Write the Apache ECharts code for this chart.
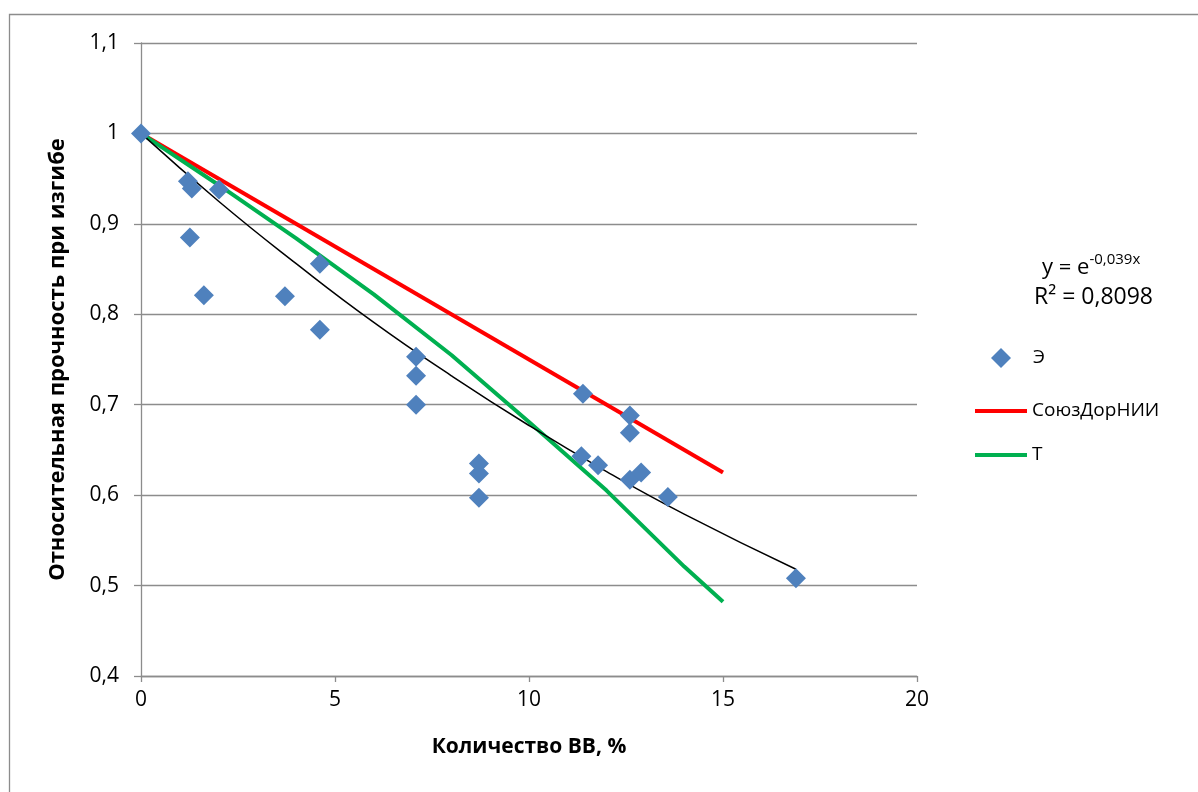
<!DOCTYPE html>
<html><head><meta charset="utf-8">
<script src="https://cdn.jsdelivr.net/npm/echarts@6/dist/echarts.min.js"></script>
<style>html,body{margin:0;padding:0;background:#fff}#c{width:1198px;height:792px}</style>
</head><body><div id="c"></div>
<script>
// Experimental points "Э"
const expX = [0, 1.21, 1.31, 2.01, 1.26, 1.62, 3.71, 4.61, 4.61, 7.09, 7.09, 7.09, 8.71, 8.71, 8.71, 11.39, 12.60, 12.60, 11.35, 11.78, 12.60, 12.89, 13.58, 16.88];
const expY = [1.0, 0.947, 0.939, 0.938, 0.885, 0.821, 0.820, 0.856, 0.783, 0.753, 0.732, 0.700, 0.635, 0.624, 0.597, 0.712, 0.688, 0.669, 0.643, 0.633, 0.617, 0.625, 0.598, 0.508];
// СоюзДорНИИ line
const redX = [0, 15];
const redY = [1.0, 0.625];
// Т line
const greenX = [0, 2, 4, 6, 8, 10, 12, 14, 15];
const greenY = [1.0, 0.943, 0.884, 0.822, 0.755, 0.681, 0.605, 0.521, 0.482];
// exponential trend line
const trendX = [0, 2, 4, 6, 8, 10, 12, 14, 16.88];
const trendY = [1.0, 0.925, 0.856, 0.791, 0.732, 0.677, 0.626, 0.579, 0.518];
const xTicks = {min: 0, max: 20, interval: 5};
const yTicks = {min: 0.4, max: 1.1, interval: 0.1};
const names = ['Э', 'СоюзДорНИИ', 'Т'];
const xTitle = 'Количество ВВ, %';
const yTitle = 'Относительная прочность при изгибе';

const zip = (a, b) => a.map((v, i) => [v, b[i]]);
const FONT = '"Open Sans", "Noto Sans", sans-serif';
const fmt = v => String(Math.round(v * 10) / 10).replace('.', ',');
const legendText = {fontFamily: FONT, fontSize: 19, color: '#000', lineHeight: 24};

const chart = echarts.init(document.getElementById('c'), null, {renderer: 'canvas'});
chart.setOption({
  animation: false,
  backgroundColor: '#fff',
  grid: {left: 141, right: 281, top: 43, bottom: 116},
  xAxis: {
    type: 'value', min: xTicks.min, max: xTicks.max, interval: xTicks.interval,
    name: xTitle, nameLocation: 'middle', nameGap: 61,
    nameTextStyle: {fontFamily: FONT, fontSize: 21, fontWeight: 'bold', color: '#000'},
    axisLine: {show: true, lineStyle: {color: '#8c8c8c', width: 1.3}},
    axisTick: {show: true, inside: false, length: 6, lineStyle: {color: '#8c8c8c', width: 1.3}},
    axisLabel: {fontFamily: FONT, fontSize: 21, color: '#000', margin: 14, formatter: fmt},
    splitLine: {show: false}
  },
  yAxis: {
    type: 'value', min: yTicks.min, max: yTicks.max, interval: yTicks.interval,
    name: yTitle, nameLocation: 'middle', nameGap: 72, nameRotate: 90,
    nameTextStyle: {fontFamily: FONT, fontSize: 22, fontWeight: 'bold', color: '#000'},
    axisLine: {show: true, lineStyle: {color: '#8c8c8c', width: 1.3}},
    axisTick: {show: true, inside: false, length: 7, lineStyle: {color: '#8c8c8c', width: 1.3}},
    axisLabel: {fontFamily: FONT, fontSize: 21, color: '#000', margin: 22, formatter: fmt},
    splitLine: {show: true, lineStyle: {color: '#8c8c8c', width: 1.3}}
  },
  legend: [
    {data: [{name: names[0], icon: 'diamond'}], orient: 'vertical', left: 986, top: 341,
     itemWidth: 20, itemHeight: 20, textStyle: Object.assign({padding: [0, 0, 0, 17]}, legendText)},
    {data: [{name: names[1], icon: 'rect'}, {name: names[2], icon: 'rect'}], orient: 'vertical',
     left: 970, top: 394, itemWidth: 52, itemHeight: 4, itemGap: 20, textStyle: legendText}
  ],
  series: [
    {name: 'trend', type: 'line', data: zip(trendX, trendY), smooth: true, symbol: 'none',
     lineStyle: {color: '#000', width: 1.5}, z: 3},
    {name: names[1], type: 'line', data: zip(redX, redY), symbol: 'none',
     lineStyle: {color: '#FF0000', width: 4}, itemStyle: {color: '#FF0000'}, z: 2},
    {name: names[2], type: 'line', data: zip(greenX, greenY), symbol: 'none',
     lineStyle: {color: '#00B050', width: 4}, itemStyle: {color: '#00B050'}, z: 2},
    {name: names[0], type: 'scatter', data: zip(expX, expY), symbol: 'diamond', symbolSize: 20,
     itemStyle: {color: '#4F81BD', opacity: 1}, z: 4}
  ],
  graphic: [
    {type: 'rect', shape: {x: 9.5, y: 14.5, width: 1400, height: 1000}, silent: true, z: -1,
     style: {fill: null, stroke: '#8c8c8c', lineWidth: 1.3}},
    {type: 'text', left: 1042, top: 252, silent: true,
     style: {text: '{a|y = e}{s|-0,039x}', rich: {
       a: {fontFamily: FONT, fontSize: 22, fill: '#000', verticalAlign: 'bottom'},
       s: {fontFamily: FONT, fontSize: 15, fill: '#000', verticalAlign: 'top', padding: [0, 0, 12, 0]}
     }}},
    {type: 'text', left: 1034, top: 286, silent: true,
     style: {text: 'R² = 0,8098', fontFamily: FONT, fontSize: 23, fill: '#000'}}
  ]
});
</script></body></html>
